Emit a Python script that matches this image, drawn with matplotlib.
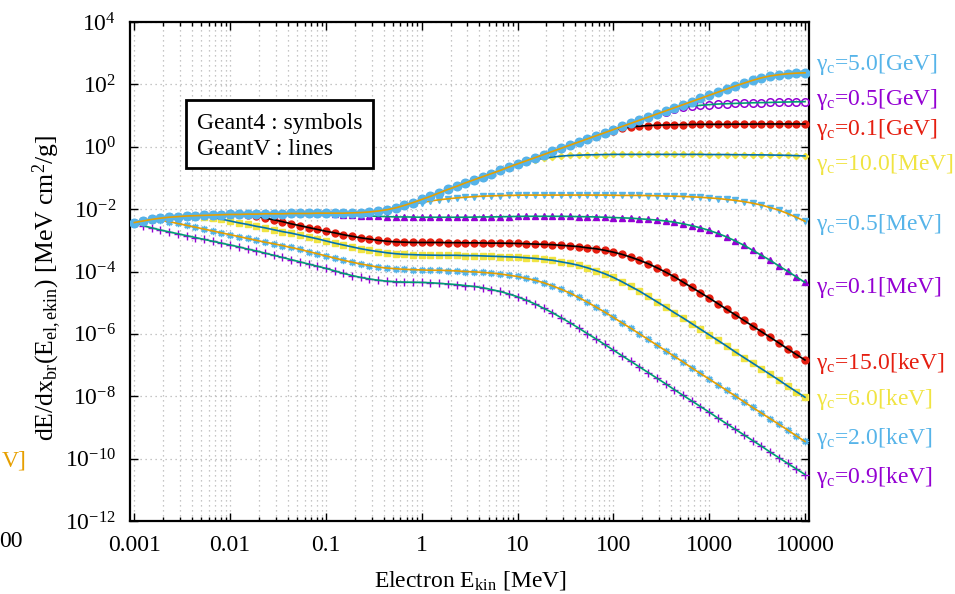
import numpy as np
import matplotlib
matplotlib.use('Agg')
import matplotlib.pyplot as plt
from matplotlib.patches import Rectangle

plt.rcParams['font.family'] = ['Liberation Serif', 'DejaVu Serif']
plt.rcParams['mathtext.fontset'] = 'custom'
plt.rcParams['mathtext.rm'] = 'Liberation Serif'
plt.rcParams['mathtext.it'] = 'Liberation Serif:italic'
plt.rcParams['mathtext.bf'] = 'Liberation Serif:bold'

# electron kinetic energy [MeV], 11 samples per decade from 1 keV to 10 GeV
e_kin = np.logspace(-3, 4, 78)

# log10 of restricted brems. dE/dx [MeV cm2/g], one list per gamma cut
# full (unrestricted) loss, reached by every cut while E_kin < cut
total_loss = [
    -2.43, -2.38, -2.33, -2.29, -2.26, -2.24, -2.22, -2.21, -2.20, -2.19, -2.18,
    -2.17, -2.17, -2.16, -2.16, -2.15, -2.15, -2.15, -2.14, -2.14, -2.14, -2.13,
    -2.13, -2.13, -2.13, -2.12, -2.11, -2.09, -2.06, -2.02, -1.96, -1.88, -1.79,
    -1.69, -1.59, -1.48, -1.37, -1.27, -1.16, -1.06, -0.96, -0.86, -0.76, -0.65,
    -0.55, -0.45, -0.35, -0.25, -0.15, -0.05, 0.05, 0.15, 0.25, 0.35, 0.45,
    0.55, 0.65, 0.75, 0.85, 0.95, 1.05, 1.15, 1.25, 1.35, 1.45, 1.55,
    1.65, 1.75, 1.85, 1.95, 2.04, 2.13, 2.21, 2.27, 2.31, 2.34, 2.36,
    2.37]

cut_5GeV = total_loss
cut_500MeV = total_loss[:60] + [
    1.04, 1.13, 1.20, 1.26, 1.30, 1.33, 1.35, 1.37, 1.38, 1.39, 1.40, 1.41,
    1.415, 1.42, 1.43, 1.435, 1.44, 1.445]
cut_100MeV = total_loss[:53] + [
    0.34, 0.43, 0.52, 0.59, 0.63, 0.66, 0.68, 0.69, 0.70, 0.705, 0.71, 0.715,
    0.72, 0.72, 0.72, 0.72, 0.725, 0.725, 0.725, 0.73, 0.73, 0.73, 0.73, 0.73, 0.73]
cut_10MeV = total_loss[:43] + [
    -0.66, -0.57, -0.49, -0.42, -0.37, -0.33, -0.30, -0.28, -0.27, -0.26, -0.255, -0.25,
    -0.245, -0.245, -0.245, -0.245, -0.245, -0.245, -0.245, -0.245, -0.245, -0.245, -0.245,
    -0.25, -0.25, -0.25, -0.255, -0.255, -0.26, -0.26, -0.265, -0.27, -0.275, -0.285, -0.295]
cut_500keV = total_loss[:28] + [
    -2.06, -2.02, -1.97, -1.91, -1.85, -1.79, -1.74, -1.70, -1.67, -1.64, -1.62, -1.60,
    -1.585, -1.575, -1.565, -1.56, -1.555,
    -1.55, -1.55, -1.55, -1.55, -1.55, -1.55, -1.55, -1.55, -1.55, -1.55,
    -1.555, -1.56, -1.56, -1.56, -1.565, -1.57, -1.58, -1.585, -1.595, -1.605, -1.62,
    -1.64, -1.66, -1.69, -1.72, -1.76, -1.81, -1.87, -1.95, -2.03, -2.14, -2.26, -2.39]
cut_100keV = total_loss[:22] + [
    -2.14, -2.16, -2.18, -2.20, -2.21, -2.22, -2.23, -2.24, -2.25, -2.25, -2.255,
    -2.26, -2.26, -2.26, -2.26, -2.26, -2.26, -2.255, -2.25, -2.25, -2.245, -2.24,
    -2.235, -2.23, -2.23, -2.23, -2.23, -2.23, -2.235, -2.24, -2.245, -2.25, -2.26,
    -2.27, -2.28, -2.29, -2.31, -2.33, -2.35, -2.38, -2.42, -2.47, -2.53, -2.60,
    -2.68, -2.78, -2.89, -3.02, -3.16, -3.32, -3.48, -3.64, -3.82, -3.99, -4.17,
    -4.35]
cut_15keV = total_loss[:13] + [
    -2.19, -2.23, -2.29, -2.34, -2.40, -2.47, -2.53, -2.59, -2.65,
    -2.71, -2.76, -2.82, -2.87, -2.92, -2.96, -3.00, -3.03, -3.05, -3.06, -3.07,
    -3.07, -3.07, -3.07, -3.075, -3.075, -3.08, -3.08, -3.085, -3.09, -3.09, -3.095,
    -3.10, -3.11, -3.12, -3.13, -3.14, -3.16, -3.18, -3.20, -3.24, -3.27, -3.32,
    -3.38, -3.45, -3.54, -3.64, -3.75, -3.88, -4.02, -4.17, -4.34, -4.51, -4.68,
    -4.85, -5.03, -5.21, -5.39, -5.57, -5.75, -5.93, -6.11, -6.29, -6.48, -6.66,
    -6.84]
cut_6keV = total_loss[:8] + [
    -2.24, -2.27, -2.32,
    -2.38, -2.44, -2.49, -2.55, -2.60, -2.66, -2.72, -2.77, -2.83, -2.89, -2.95,
    -3.02, -3.09, -3.15, -3.21, -3.27, -3.32, -3.36, -3.40, -3.43, -3.45, -3.46,
    -3.47, -3.475, -3.48, -3.48, -3.48, -3.49, -3.49, -3.50, -3.51, -3.52, -3.53,
    -3.54, -3.56, -3.58, -3.61, -3.64, -3.69, -3.74, -3.80, -3.88, -3.97, -4.07,
    -4.19, -4.33, -4.48, -4.63, -4.80, -4.97, -5.14, -5.32, -5.49, -5.67, -5.85,
    -6.03, -6.21, -6.39, -6.58, -6.76, -6.94, -7.12, -7.30, -7.48, -7.67, -7.85,
    -8.03]
cut_2keV = [
    -2.43, -2.38, -2.35, -2.36, -2.40, -2.46, -2.52, -2.58, -2.64, -2.70, -2.76,
    -2.82, -2.88, -2.94, -3.00, -3.06, -3.11, -3.17, -3.23, -3.29, -3.36, -3.43,
    -3.50, -3.57, -3.64, -3.70, -3.76, -3.81, -3.86, -3.89, -3.91, -3.93, -3.94,
    -3.95, -3.96, -3.96, -3.97, -3.98, -4.00, -4.01, -4.03, -4.05, -4.08, -4.12,
    -4.16, -4.22, -4.28, -4.36, -4.46, -4.57, -4.69, -4.83, -4.98, -5.14, -5.30,
    -5.47, -5.65, -5.82, -6.00, -6.18, -6.36, -6.54, -6.72, -6.90, -7.09, -7.27,
    -7.45, -7.63, -7.81, -7.99, -8.18, -8.36, -8.54, -8.72, -8.90, -9.08, -9.27,
    -9.45]
cut_900eV = [
    -2.43, -2.53, -2.60, -2.67, -2.73, -2.79, -2.85, -2.91, -2.97, -3.03, -3.09,
    -3.15, -3.21, -3.28, -3.34, -3.41, -3.48, -3.55, -3.62, -3.69, -3.76, -3.83,
    -3.90, -3.98, -4.06, -4.13, -4.19, -4.24, -4.28, -4.31, -4.33, -4.34, -4.345,
    -4.35, -4.36, -4.38, -4.40, -4.42, -4.45, -4.48, -4.52, -4.58, -4.64, -4.72,
    -4.81, -4.92, -5.04, -5.18, -5.32, -5.48, -5.64, -5.81, -5.99, -6.16, -6.34,
    -6.52, -6.70, -6.88, -7.06, -7.24, -7.42, -7.60, -7.79, -7.97, -8.15, -8.33,
    -8.51, -8.70, -8.88, -9.06, -9.24, -9.42, -9.60, -9.79, -9.97, -10.15, -10.33,
    -10.51]

cut_labels = ['5.0[GeV]', '0.5[GeV]', '0.1[GeV]', '10.0[MeV]', '0.5[MeV]',
              '0.1[MeV]', '15.0[keV]', '6.0[keV]', '2.0[keV]', '0.9[keV]']

x_tick_labels = ['0.001', '0.01', '0.1', '1', '10', '100', '1000', '10000']
y_tick_exps = [4, 2, 0, -2, -4, -6, -8, -10, -12]

# gnuplot default palette
PURPLE = '#9400D3'
GREEN = '#009E73'
LBLUE = '#56B4E9'
ORANGE = '#E69F00'
YELLOW = '#F0E442'
BLUE = '#0072B2'
RED = '#E51E10'
BLACK = '#000000'

# (data, symbol color, marker, marker size, filled, line color, label baseline px)
styles = [
    (cut_5GeV, LBLUE, 'o', 6.2, True, ORANGE, 70),
    (cut_500MeV, PURPLE, 'o', 5.4, False, GREEN, 105),
    (cut_100MeV, RED, 'o', 5.0, True, BLACK, 135),
    (cut_10MeV, YELLOW, 'D', 3.2, True, BLUE, 170),
    (cut_500keV, LBLUE, 'v', 4.2, True, ORANGE, 230),
    (cut_100keV, PURPLE, '^', 4.2, True, GREEN, 293),
    (cut_15keV, RED, 'o', 5.0, True, BLACK, 369),
    (cut_6keV, YELLOW, 's', 5.0, True, BLUE, 405),
    (cut_2keV, LBLUE, (8, 2, 0), 5.2, True, ORANGE, 444),
    (cut_900eV, PURPLE, '+', 5.2, True, GREEN, 483),
]

W, H = 955, 594
fig = plt.figure(figsize=(W / 100, H / 100), dpi=100)
ax = fig.add_axes([130 / W, 1 - 521 / H, (809 - 130) / W, (521 - 22) / H])
ax.set_xscale('log')
ax.set_yscale('log')
ax.set_xlim(10 ** -3.045, 10 ** 4.042)
ax.set_ylim(1e-12, 1e4)

# draw lowest cut first so the full-loss curve ends up on top
for k in range(len(styles) - 1, -1, -1):
    vals, mcol, mk, ms, filled, lcol, _ = styles[k]
    y = 10.0 ** np.array(vals)
    z = 3 + (len(styles) - k) * 2
    if filled:
        ax.plot(e_kin, y, linestyle='none', marker=mk, ms=ms, color=mcol,
                mec=mcol, mew=1.0, zorder=z)
    else:
        ax.plot(e_kin, y, linestyle='none', marker=mk, ms=ms, mfc='none',
                mec=mcol, mew=1.1, zorder=z)
    ax.plot(e_kin, y, '-', color=lcol, lw=1.2, zorder=z + 1)

# ticks and grid
ax.set_xticks([10.0 ** p for p in range(-3, 5)])
ax.set_xticklabels(x_tick_labels)
ax.set_xticks([m * 10.0 ** p for p in range(-3, 4) for m in range(2, 10)], minor=True)
ax.set_yticks([10.0 ** p for p in y_tick_exps])
ax.set_yticklabels([r'10$^{\mathrm{%d}}$' % p for p in y_tick_exps])
ax.set_yticks([], minor=True)
ax.tick_params(which='both', direction='in', top=True, right=True, width=1.0,
               labelsize=17, colors='black')
ax.tick_params(which='major', length=6)
ax.tick_params(which='minor', length=3)
ax.tick_params(axis='x', which='major', pad=10)
ax.tick_params(axis='y', which='major', pad=10)

grid_kw = dict(color='#b4b4b4', lw=0.9, linestyle=(0, (1, 3)))
ax.grid(True, which='major', **grid_kw)
ax.xaxis.grid(True, which='minor', **grid_kw)
ax.set_axisbelow(True)
for sp in ax.spines.values():
    sp.set_linewidth(1.6)

# axis titles
fig.text(470 / W, 1 - 587 / H, r'Electron E$_{\mathrm{kin}}$ [MeV]', fontsize=17,
         ha='center', va='baseline')
fig.text(47 / W, 1 - 288 / H,
         r'dE/dx$_{\mathrm{br}}$(E$_{\mathrm{el,ekin}}$) [MeV cm$^{\mathrm{2}}$/g]',
         fontsize=18.5, rotation=90, ha='center', va='center')

# cut labels on the right
for k, (vals, mcol, mk, ms, filled, lcol, base) in enumerate(styles):
    fig.text(816 / W, 1 - base / H, r'γ$_{\mathrm{c}}$=' + cut_labels[k],
             color=mcol, fontsize=17, ha='left', va='baseline')

# key box
fig.patches.append(Rectangle((186 / W, 1 - 168 / H), 187 / W, 68 / H,
                             transform=fig.transFigure, facecolor='white',
                             edgecolor='black', lw=2.0, zorder=5))
fig.text(197 / W, 1 - 129 / H, 'Geant4 : symbols', fontsize=17, va='baseline', zorder=6)
fig.text(197 / W, 1 - 155 / H, 'GeantV : lines', fontsize=17, va='baseline', zorder=6)

# pieces of the neighbouring panel
fig.text(2 / W, 1 - 466 / H, 'V]', color=ORANGE, fontsize=17, ha='left', va='baseline')
fig.text(23 / W, 1 - 547 / H, '00', color='black', fontsize=17, ha='right', va='baseline')

fig.savefig('out.png', dpi=100)
